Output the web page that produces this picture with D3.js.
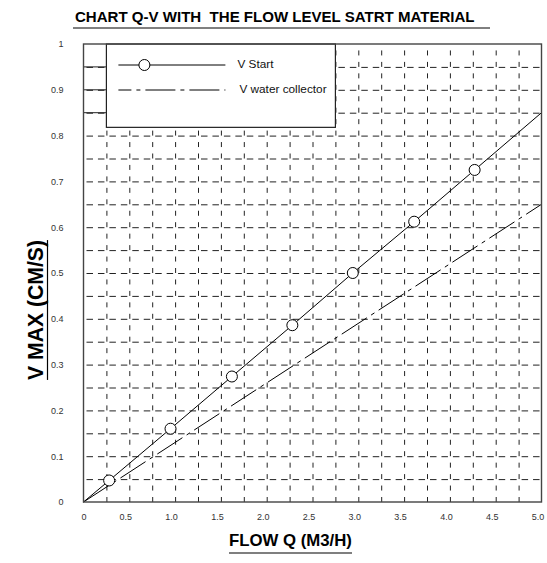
<!DOCTYPE html>
<html>
<head>
<meta charset="utf-8">
<script src="https://cdn.jsdelivr.net/npm/d3@7"></script>
<style>
  html, body { margin: 0; padding: 0; background: #fff; }
  svg { display: block; }
  text { white-space: pre; }
</style>
</head>
<body>
<div id="chart"></div>
<script>
// ---- data ----
const chartTitle = "CHART Q-V WITH  THE FLOW LEVEL SATRT MATERIAL";
const xTitle = "FLOW Q (M3/H)";
const yTitle = "V MAX (CM/S)";
const seriesNames = ["V Start", "V water collector"];

// V Start line (through the origin to the right edge)
const startQ = [0, 0.28, 0.95, 1.62, 2.28, 2.94, 3.61, 4.27, 5.0];
const startV = [0, 0.047, 0.16, 0.274, 0.386, 0.5, 0.612, 0.725, 0.85];
// V Start circle markers
const markerQ = [0.28, 0.95, 1.62, 2.28, 2.94, 3.61, 4.27];
const markerV = [0.047, 0.16, 0.274, 0.386, 0.5, 0.612, 0.725];
// V water collector line
const waterQ = [0, 5.0];
const waterV = [0, 0.65];

// ticks
const xTickValues = [0, 0.5, 1.0, 1.5, 2.0, 2.5, 3.0, 3.5, 4.0, 4.5, 5.0];
const xTickLabels = ["0", "0.5", "1.0", "1.5", "2.0", "2.5", "3.0", "3.5", "4.0", "4.5", "5.0"];
const yTickValues = [0, 0.1, 0.2, 0.3, 0.4, 0.5, 0.6, 0.7, 0.8, 0.9, 1];
const yTickLabels = ["0", "0.1", "0.2", "0.3", "0.4", "0.5", "0.6", "0.7", "0.8", "0.9", "1"];
const xGridValues = d3.range(1, 20).map(i => i * 0.25);
const yGridValues = d3.range(1, 20).map(i => i * 0.05);
// legend extent in data units
const legendQ = [0.25, 2.75];
const legendV = [0.818, 1.0];

// ---- layout ----
const W = 547, H = 563;
const L = 83.5, R = 541.5, T = 44, B = 502;

const svg = d3.select("#chart").append("svg")
  .attr("width", W).attr("height", H);

const x = d3.scaleLinear().domain([0, 5]).range([L, R]);
const y = d3.scaleLinear().domain([0, 1]).range([B, T]);

const ink = "#222";

// grid: vertical dashed lines
const gx = svg.append("g").attr("transform", `translate(0,${B})`)
  .call(d3.axisBottom(x).tickValues(xGridValues).tickSize(-(B - T)).tickFormat(""));
gx.select(".domain").remove();
gx.selectAll(".tick line").attr("stroke", ink).attr("stroke-width", 1)
  .attr("stroke-dasharray", "5,6.45").attr("stroke-dashoffset", 0);

// grid: horizontal dashed lines
const gy = svg.append("g").attr("transform", `translate(${L},0)`)
  .call(d3.axisLeft(y).tickValues(yGridValues).tickSize(-(R - L)).tickFormat(""));
gy.select(".domain").remove();
gy.selectAll(".tick line").attr("stroke", ink).attr("stroke-width", 1)
  .attr("stroke-dasharray", "6.5,4.95").attr("stroke-dashoffset", -3);

// legend box (covers grid)
const lx0 = x(legendQ[0]), lx1 = x(legendQ[1]);
const ly0 = y(legendV[1]), ly1 = y(legendV[0]);
svg.append("rect")
  .attr("x", lx0).attr("y", ly0)
  .attr("width", lx1 - lx0).attr("height", ly1 - ly0)
  .attr("fill", "#fff").attr("stroke", ink).attr("stroke-width", 1.2);

// solid short grid segments left of legend
svg.append("g").selectAll("line")
  .data(yGridValues.filter(v => y(v) > ly0 + 1 && y(v) < ly1 - 1))
  .join("line")
  .attr("x1", L).attr("x2", lx0)
  .attr("y1", d => y(d)).attr("y2", d => y(d))
  .attr("stroke", ink).attr("stroke-width", 1);

// series lines
const lineGen = d3.line().x(d => x(d[0])).y(d => y(d[1]));
const startPts = startQ.map((q, i) => [q, startV[i]]);
const waterPts = waterQ.map((q, i) => [q, waterV[i]]);

const plot = svg.append("g");
plot.append("path").datum(waterPts).attr("d", lineGen)
  .attr("fill", "none").attr("stroke", "#000").attr("stroke-width", 1)
  .attr("stroke-dasharray", "30,5,4,5");
plot.append("path").datum(startPts).attr("d", lineGen)
  .attr("fill", "none").attr("stroke", "#000").attr("stroke-width", 1);
plot.selectAll("circle").data(markerQ.map((q, i) => [q, markerV[i]]))
  .join("circle")
  .attr("cx", d => x(d[0])).attr("cy", d => y(d[1])).attr("r", 5.5)
  .attr("fill", "#fff").attr("stroke", "#000").attr("stroke-width", 1);

// frame
svg.append("rect").attr("x", L).attr("y", T)
  .attr("width", R - L).attr("height", B - T)
  .attr("fill", "none").attr("stroke", "#444").attr("stroke-width", 1.4);

// tick labels
const ax = svg.append("g").attr("transform", `translate(0,${B})`)
  .call(d3.axisBottom(x).tickValues(xTickValues).tickSize(0)
    .tickFormat((d, i) => xTickLabels[i]));
ax.select(".domain").remove();
ax.selectAll("text")
  .attr("y", 12).attr("dx", d => d === 0 ? 0 : -4)
  .attr("font-family", "Liberation Sans, Arial, sans-serif")
  .attr("font-size", 9).attr("fill", "#333");

const ay = svg.append("g").attr("transform", `translate(${L},0)`)
  .call(d3.axisLeft(y).tickValues(yTickValues).tickSize(0)
    .tickFormat((d, i) => yTickLabels[i]));
ay.select(".domain").remove();
ay.selectAll("text")
  .attr("x", -20)
  .attr("font-family", "Liberation Sans, Arial, sans-serif")
  .attr("font-size", 9).attr("fill", "#333");

// legend content
const legX1 = lx0 + 12, legX2 = lx0 + 119, legTextX = lx0 + 131;
const legRows = [ly0 + 21, ly0 + 46];
svg.append("line").attr("x1", legX1).attr("x2", legX2)
  .attr("y1", legRows[0]).attr("y2", legRows[0])
  .attr("stroke", "#000").attr("stroke-width", 1);
svg.append("circle").attr("cx", legX1 + 26).attr("cy", legRows[0]).attr("r", 5.5)
  .attr("fill", "#fff").attr("stroke", "#000").attr("stroke-width", 1);
svg.append("line").attr("x1", legX1).attr("x2", legX2)
  .attr("y1", legRows[1]).attr("y2", legRows[1])
  .attr("stroke", "#000").attr("stroke-width", 1)
  .attr("stroke-dasharray", "30,5,4,5").attr("stroke-dashoffset", 17);
svg.selectAll(".legtext").data(seriesNames).join("text")
  .attr("class", "legtext")
  .attr("x", (d, i) => legTextX + i * 2)
  .attr("y", (d, i) => legRows[i] + 3)
  .attr("font-family", "Liberation Sans, Arial, sans-serif")
  .attr("font-size", 11.8).attr("fill", "#111")
  .text(d => d);

// helper: fit text to width
function fitWidth(sel, target, base) {
  sel.attr("font-size", base);
  const w = sel.node().getComputedTextLength();
  sel.attr("font-size", base * target / w);
  return sel;
}

// chart title
const tt = svg.append("text").attr("x", 75).attr("y", 22)
  .attr("font-family", "Liberation Sans, Arial, sans-serif")
  .attr("font-weight", "bold").attr("fill", "#000")
  .text(chartTitle);
fitWidth(tt, 400, 15);
svg.append("line").attr("x1", 73).attr("x2", 490).attr("y1", 28).attr("y2", 28)
  .attr("stroke", "#000").attr("stroke-width", 1);

// x title
const xt = svg.append("text").attr("x", 229).attr("y", 546)
  .attr("font-family", "Liberation Sans, Arial, sans-serif")
  .attr("font-weight", "bold").attr("fill", "#000")
  .text(xTitle);
fitWidth(xt, 123, 16);
svg.append("line").attr("x1", 229).attr("x2", 352).attr("y1", 553).attr("y2", 553)
  .attr("stroke", "#000").attr("stroke-width", 1.2);

// y title
const yCenter = 310, yBase = 43;
const yt = svg.append("text")
  .attr("transform", `translate(${yBase},${yCenter}) rotate(-90)`)
  .attr("text-anchor", "middle")
  .attr("font-family", "Liberation Sans, Arial, sans-serif")
  .attr("font-weight", "bold").attr("fill", "#000")
  .text(yTitle);
fitWidth(yt, 140, 16);
const yw = yt.node().getComputedTextLength();
svg.append("line").attr("x1", yBase + 4.5).attr("x2", yBase + 4.5)
  .attr("y1", yCenter - yw / 2).attr("y2", yCenter + yw / 2)
  .attr("stroke", "#000").attr("stroke-width", 1.2);
</script>
</body>
</html>
